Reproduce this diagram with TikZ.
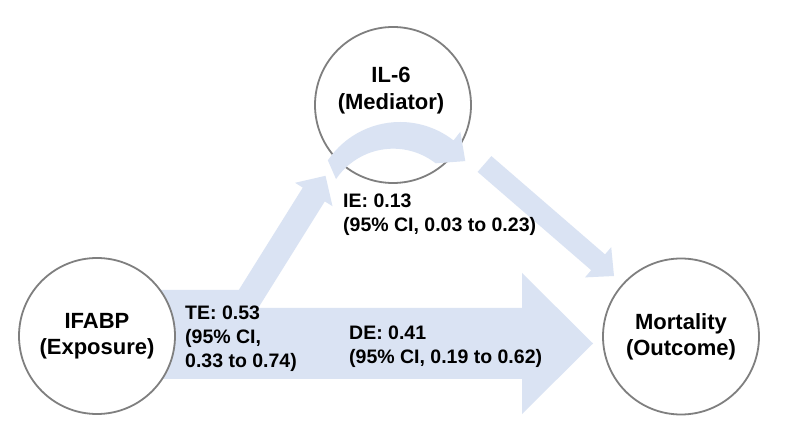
\documentclass[tikz,border=0pt]{standalone}
\usepackage{fontspec}
\usetikzlibrary{calc}
\setmainfont{Liberation Sans}
\definecolor{arrowblue}{HTML}{DAE3F3}
\definecolor{circgray}{HTML}{7F7F7F}
\tikzset{
  blockarrow/.style={fill=arrowblue, draw=none},
  circnode/.style={circle, draw=circgray, line width=1.8pt, fill=white, minimum size=156pt, inner sep=0pt, align=center, font=\fontsize{22}{26}\selectfont\bfseries},
  maintext/.style={align=center, inner sep=0pt, font=\fontsize{22}{27}\selectfont\bfseries},
  effecttext/.style={align=left, anchor=west, inner sep=0pt, font=\fontsize{19.5}{24}\selectfont\bfseries}
}
\begin{document}
\begin{tikzpicture}[x=1pt,y=-1pt]
\useasboundingbox (0,0) rectangle (787,443);
\fill[white] (0,0) rectangle (787,443);

% direct effect arrow (IFABP -> Mortality)
\fill[blockarrow] (150,308) -- (522,308) -- (522,273) -- (593,343.5) -- (522,414) -- (522,379) -- (150,379) -- cycle;

% bent arrow (IFABP -> IL-6)
\fill[blockarrow] (150,290) -- (238.8,290) -- (302.8,187.6) -- (295.1,182.8) -- (325.5,175.8)
  -- (332.5,206.2) -- (324.8,201.4) -- (253.2,316) -- (150,316) -- cycle;

% straight arrow (IL-6 -> Mortality)
\fill[blockarrow] (491.4,156.1) -- (605.0,254.4) -- (611.2,247.2) -- (614,276)
  -- (585.0,277.4) -- (591.2,270.2) -- (477.6,171.9) -- cycle;

% nodes
\node[circnode] (ifabp) at (97,336) {IFABP\\(Exposure)};
\node[circnode] (mort) at (681,336.5) {Mortality\\(Outcome)};
\node[circnode] (il6) at (393,105) {};
\node[maintext] (il6label) at (391,91) {IL-6\\(Mediator)};

% curved arrow through IL-6
\coordinate (arcc) at (400,209);
\fill[blockarrow] ($(arcc)+(-146:87)$) arc[start angle=-146, end angle=-52, radius=87]
  -- ($(arcc)+(-52:98)$) -- (465.3,161.1) -- ($(arcc)+(-52:58)$)
  arc[start angle=-52, end angle=-146, radius=69] -- cycle;

% effect labels
\node[effecttext] (te) at (185,338.7) {TE: 0.53\\(95\% CI,\\0.33 to 0.74)};
\node[effecttext] (de) at (349,347) {DE: 0.41\\(95\% CI, 0.19 to 0.62)};
\node[effecttext] (ie) at (343,214.5) {IE: 0.13\\(95\% CI, 0.03 to 0.23)};
\end{tikzpicture}
\end{document}
